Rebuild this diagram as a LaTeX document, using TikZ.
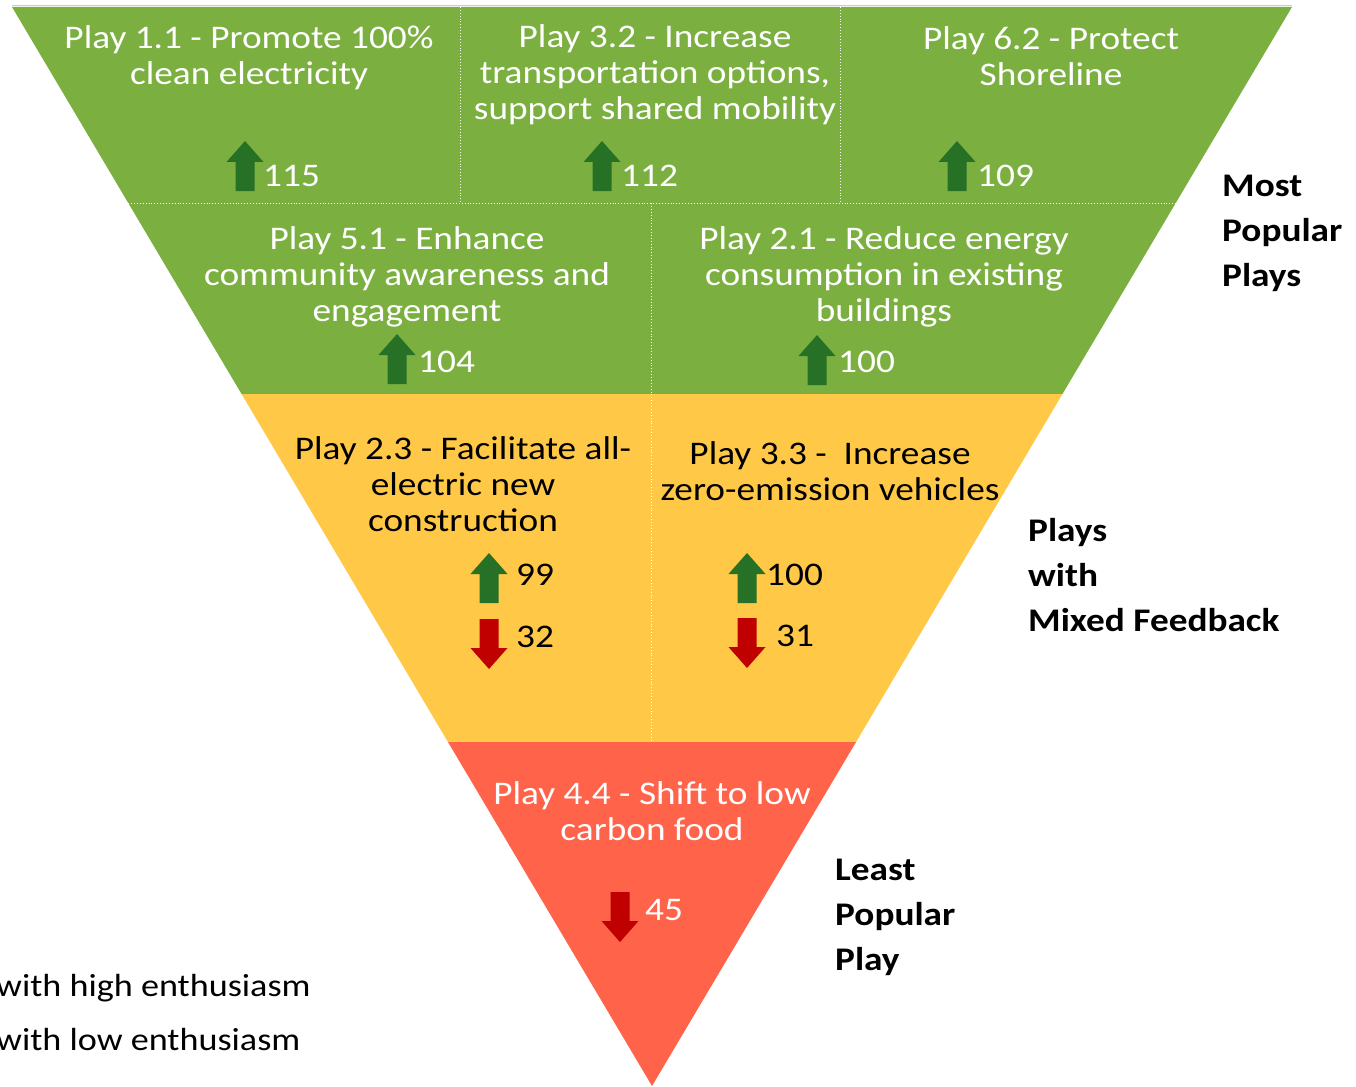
\documentclass[tikz,border=0pt]{standalone}
\usepackage{fontspec}
\setmainfont{Carlito}[FakeStretch=1.13]
\usetikzlibrary{calc}
\definecolor{bandgreen}{RGB}{123,176,65}
\definecolor{bandyellow}{RGB}{255,200,70}
\definecolor{bandred}{RGB}{255,99,74}
\definecolor{arrgreen}{RGB}{38,113,38}
\definecolor{arrred}{RGB}{192,0,0}
\tikzset{
  lbl/.style={align=center, inner sep=0pt, font=\fontsize{33}{36}\selectfont},
  num/.style={anchor=west, inner sep=0pt, font=\fontsize{33}{36}\selectfont},
  side/.style={align=left, anchor=west, inner sep=0pt, font=\fontsize{33}{45}\selectfont\bfseries},
  legend/.style={anchor=west, inner sep=0pt, font=\fontsize{32}{36}\selectfont},
  divider/.style={white, line width=0.9pt, dotted},
  uparr/.pic={\fill[arrgreen] (-9.5,25) -- (-9.5,-4) -- (-18.5,-4) -- (0,-25) -- (18.5,-4) -- (9.5,-4) -- (9.5,25) -- cycle;},
  downarr/.pic={\fill[arrred] (-9.5,-25) -- (-9.5,4) -- (-18.5,4) -- (0,25) -- (18.5,4) -- (9.5,4) -- (9.5,-25) -- cycle;}
}
\begin{document}
\begin{tikzpicture}[x=1pt,y=-1pt]
\useasboundingbox (0,0) rectangle (1356,1086);
\coordinate (L) at (12,7);
\coordinate (R) at (1292,7);
\coordinate (A) at (652,1086);
\coordinate (L1) at ($(L)!0.18165!(A)$);
\coordinate (R1) at ($(R)!0.18165!(A)$);
\coordinate (L2) at ($(L)!0.35867!(A)$);
\coordinate (R2) at ($(R)!0.35867!(A)$);
\coordinate (L3) at ($(L)!0.68119!(A)$);
\coordinate (R3) at ($(R)!0.68119!(A)$);
% bands
\fill[bandgreen] (L) -- (R) -- (R2) -- (L2) -- cycle;
\fill[bandyellow] (L2) -- (R2) -- (R3) -- (L3) -- cycle;
\fill[bandred] (L3) -- (R3) -- (A) -- cycle;
\draw[black!20, line width=1pt] (12,6) -- (1292,6);
% dividers
\draw[divider] (L1) -- (R1);
\draw[divider] (460,7) -- (460,203);
\draw[divider] (840,7) -- (840,203);
\draw[divider] (651,203) -- (651,742);
% texts
\node[lbl, text=white] (p11) at (249,58) {Play 1.1 - Promote 100\%\\clean electricity};
\node[lbl, text=white] (p32) at (655,75) {Play 3.2 - Increase\\transportation options,\\support shared mobility};
\node[lbl, text=white] (p62) at (1051,56) {Play 6.2 - Protect\\Shoreline};
\node[lbl, text=white] (p51) at (407,277) {Play 5.1 - Enhance\\community awareness and\\engagement};
\node[lbl, text=white] (p21) at (884,277) {Play 2.1 - Reduce energy\\consumption in existing\\buildings};
\node[lbl, text=black] (p23) at (463,484) {Play 2.3 - Facilitate all-\\electric new\\construction};
\node[lbl, text=black] (p33) at (830,471) {Play 3.3 -\ \ Increase\\zero-emission vehicles};
\node[lbl, text=white] (p44) at (652,811) {Play 4.4 - Shift to low\\carbon food};
% arrows and counts
\pic at (245,166) {uparr};
\node[num, text=white] (n115) at (263,176) {115};
\pic at (602,166) {uparr};
\node[num, text=white] (n112) at (621,176) {112};
\pic at (957,166) {uparr};
\node[num, text=white] (n109) at (977,176) {109};
\pic at (397,359) {uparr};
\node[num, text=white] (n104) at (418,362) {104};
\pic at (817,360) {uparr};
\node[num, text=white] (n100a) at (838,362) {100};
\pic at (489,578) {uparr};
\node[num] (n99) at (516,575) {99};
\pic at (489,644) {downarr};
\node[num] (n32) at (516,637) {32};
\pic at (747,578) {uparr};
\node[num] (n100b) at (766,575) {100};
\pic at (747,643) {downarr};
\node[num] (n31) at (776,636) {31};
\pic at (620,917) {downarr};
\node[num, text=white] (n45) at (645,910) {45};
% side labels
\node[side] (most) at (1222,233) {Most\\Popular\\Plays};
\node[side] (mixed) at (1028,575) {Plays\\with\\Mixed Feedback};
\node[side] (least) at (835,917) {Least\\Popular\\Play};
% legend
\node[legend] (high) at (-4,988) {with high enthusiasm};
\node[legend] (low) at (-4,1039) {with low enthusiasm};
\end{tikzpicture}
\end{document}
